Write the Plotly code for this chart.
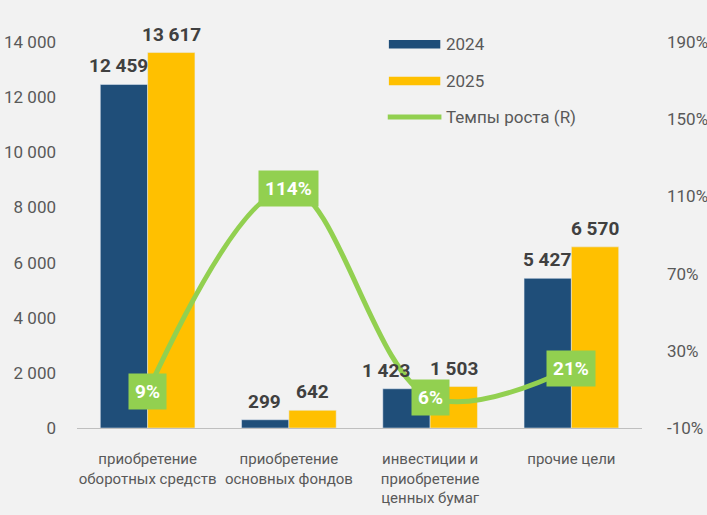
import plotly.graph_objects as go

categories = ["приобретение<br>оборотных средств", "приобретение<br>основных фондов",
              "инвестиции и<br>приобретение<br>ценных бумаг", "прочие цели"]
values_2024 = [12459, 299, 1423, 5427]
values_2025 = [13617, 642, 1503, 6570]
growth = [9, 114, 6, 21]
left_ticks = [0, 2000, 4000, 6000, 8000, 10000, 12000, 14000]
right_ticks = [-10, 30, 70, 110, 150, 190]

FONT = "Roboto, sans-serif"
BLUE = "#1F4E79"
YELLOW = "#FFC000"
GREEN = "#92D050"
GRAY = "#595959"

def fmt(v):
    return f"{v:,}".replace(",", " ")

fig = go.Figure()
fig.add_trace(go.Bar(x=categories, y=values_2024, name="2024", marker_color=BLUE))
fig.add_trace(go.Bar(x=categories, y=values_2025, name="2025", marker_color=YELLOW))
fig.add_trace(go.Scatter(x=categories, y=growth, yaxis="y2", mode="lines",
                         line=dict(color=GREEN, width=5, shape="spline", smoothing=1.0),
                         name="Темпы роста (R)"))

# bar value labels (pixel nudges to keep labels apart, as in the original)
shift_2024 = [-29, -24, -44, -24]
shift_2025 = [24, 24, 24, 24]
for c, v, s in zip(categories, values_2024, shift_2024):
    fig.add_annotation(x=c, y=v, text=f"<b>{fmt(v)}</b>", showarrow=False, xshift=s,
                       yanchor="bottom", yshift=5,
                       font=dict(family=FONT, size=19, color="#404040"))
for c, v, s in zip(categories, values_2025, shift_2025):
    fig.add_annotation(x=c, y=v, text=f"<b>{fmt(v)}</b>", showarrow=False, xshift=s,
                       yanchor="bottom", yshift=5,
                       font=dict(family=FONT, size=19, color="#404040"))

for c, g in zip(categories, growth):
    fig.add_annotation(x=c, y=g, yref="y2", text=f"<b>{g}%</b>", showarrow=False,
                       bgcolor=GREEN, font=dict(family=FONT, size=19, color="white"),
                       borderpad=6)

# custom legend
legend_items = [("2024", BLUE, 1.005, 0.983), ("2025", YELLOW, 0.91, 0.888)]
for name, col, y0, y1 in legend_items:
    fig.add_shape(type="rect", xref="paper", yref="paper", x0=0.552, x1=0.643, y0=y1, y1=y0,
                  fillcolor=col, line_width=0)
    fig.add_annotation(xref="paper", yref="paper", x=0.65, y=(y0 + y1) / 2, text=name,
                       showarrow=False, xanchor="left", yanchor="middle",
                       font=dict(family=FONT, size=17, color=GRAY))
fig.add_shape(type="line", xref="paper", yref="paper", x0=0.55, x1=0.645, y0=0.806, y1=0.806,
              line=dict(color=GREEN, width=5))
fig.add_annotation(xref="paper", yref="paper", x=0.65, y=0.806, text="Темпы роста (R)",
                   showarrow=False, xanchor="left", yanchor="middle",
                   font=dict(family=FONT, size=17, color=GRAY))

fig.update_layout(
    width=707, height=515,
    margin=dict(l=77, r=65, t=42, b=87, autoexpand=False),
    paper_bgcolor="#F2F2F2", plot_bgcolor="#F2F2F2",
    barmode="group", bargap=0.33, bargroupgap=0,
    showlegend=False,
    font=dict(family=FONT, color=GRAY),
    xaxis=dict(showgrid=False, showline=True, linecolor="#BFBFBF", linewidth=1,
               tickfont=dict(family=FONT, size=15, color=GRAY), ticks="", tickangle=0,
               automargin=False, ticklabelstandoff=17),
    yaxis=dict(range=[0, 14000], tickvals=left_ticks,
               ticktext=[fmt(v) for v in left_ticks], showgrid=False, automargin=False,
               zeroline=False, tickfont=dict(family=FONT, size=17, color=GRAY), ticklen=0,
               ticklabelstandoff=20),
    yaxis2=dict(range=[-10, 190], tickvals=right_ticks, automargin=False,
                ticktext=[f"{v}%" for v in right_ticks], overlaying="y",
                side="right", showgrid=False, zeroline=False,
                tickfont=dict(family=FONT, size=17, color=GRAY), ticklabelstandoff=24),
)

fig.write_html("out.html", config={"displayModeBar": False},
               post_script="document.body.style.margin='0';document.body.style.padding='0';")
